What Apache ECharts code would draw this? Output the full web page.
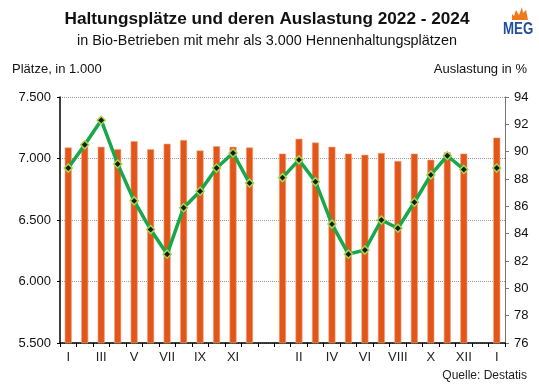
<!DOCTYPE html>
<html><head><meta charset="utf-8">
<script src="https://cdn.jsdelivr.net/npm/echarts@6/dist/echarts.min.js"></script>
<style>html,body{margin:0;padding:0;background:#fff}#c{width:539px;height:389px}</style>
</head><body><div id="c"></div>
<script>
var categories = ['I','II','III','IV','V','VI','VII','VIII','IX','X','XI','XII','',
                  'I','II','III','IV','V','VI','VII','VIII','IX','X','XI','XII','','I'];
var plaetze = [7090,7100,7095,7075,7140,7075,7120,7150,7065,7100,7095,7090,null,
               7040,7160,7130,7095,7040,7030,7045,6980,7040,6990,7050,7040,null,7170];
var auslastung = [88.8,90.5,92.3,89.1,86.4,84.3,82.5,85.9,87.1,88.8,89.9,87.7,null,
                  88.1,89.4,87.8,84.7,82.5,82.8,85.0,84.4,86.3,88.3,89.7,88.7,null,88.8];
var leftTicks = [5500,7500,500];
var rightTicks = [76,94,2];
var FONT = '"Liberation Sans", Arial, sans-serif';
var chart = echarts.init(document.getElementById('c'));
chart.setOption({
  animation:false,
  backgroundColor:'#fff',
  textStyle:{fontFamily:FONT},
  title:[
    {text:'Haltungsplätze und deren Auslastung 2022 - 2024', left:262, textAlign:'center', top:6,
     textStyle:{fontFamily:FONT,fontSize:17.2,fontWeight:'bold',color:'#111'}},
    {text:'in Bio-Betrieben mit mehr als 3.000 Hennenhaltungsplätzen', left:262, textAlign:'center', top:29,
     textStyle:{fontFamily:FONT,fontSize:14.4,fontWeight:'normal',color:'#111'}}
  ],
  graphic:[
    {type:'text', left:12, top:63, style:{text:'Plätze, in 1.000', font:'13px '+FONT, fill:'#111'}},
    {type:'text', right:12, top:63, style:{text:'Auslastung in %', font:'13px '+FONT, fill:'#111'}},
    {type:'text', right:12, top:370, style:{text:'Quelle: Destatis', font:'12px '+FONT, fill:'#222'}},
    {type:'polygon', shape:{points:[[512,20],[512,14],[514,16],[516,10],[519,15],[522,7],[523,13],[526,10],[528,20]]},
     style:{fill:'#f07a1a'}},
    {type:'text', x:503, y:21, scaleX:0.78, style:{text:'MEG', font:'bold 17px '+FONT, fill:'#1f4e9c'}}
  ],
  grid:{left:60, right:34, top:97, bottom:46},
  xAxis:{type:'category', data:categories, boundaryGap:true,
    axisLine:{lineStyle:{color:'#000',width:1.5}},
    axisTick:{show:true, interval:0, length:4, lineStyle:{color:'#000'}},
    axisLabel:{interval:1, color:'#222', fontSize:13, margin:8, fontFamily:FONT},
    splitLine:{show:false}},
  yAxis:[
    {type:'value', min:leftTicks[0], max:leftTicks[1], interval:leftTicks[2], position:'left',
     axisLine:{show:true, lineStyle:{color:'#000',width:1.5}},
     axisTick:{show:true, length:3, lineStyle:{color:'#000'}},
     axisLabel:{color:'#111', fontSize:13, margin:9, fontFamily:FONT,
       formatter:function(v){return (v/1000).toFixed(3);}},
     splitLine:{show:true, lineStyle:{color:'#999', type:[1,1], width:1}}},
    {type:'value', min:rightTicks[0], max:rightTicks[1], interval:rightTicks[2], position:'right',
     axisLine:{show:true, lineStyle:{color:'#777',width:1}},
     axisTick:{show:true, length:4, lineStyle:{color:'#777'}},
     axisLabel:{color:'#111', fontSize:13, margin:9, fontFamily:FONT},
     splitLine:{show:false}}
  ],
  series:[
    {type:'bar', yAxisIndex:0, data:plaetze, barWidth:7,
     itemStyle:{color:'#e25719', borderColor:'#f2a27c', borderWidth:0.6}},
    {type:'line', yAxisIndex:1, data:auslastung, connectNulls:false,
     lineStyle:{color:'#17a84a', width:3.5},
     symbol:'diamond', symbolSize:8, showSymbol:true,
     itemStyle:{color:'#1a1a1a', borderColor:'#a6d84a', borderWidth:1.5}}
  ]
});
</script></body></html>
